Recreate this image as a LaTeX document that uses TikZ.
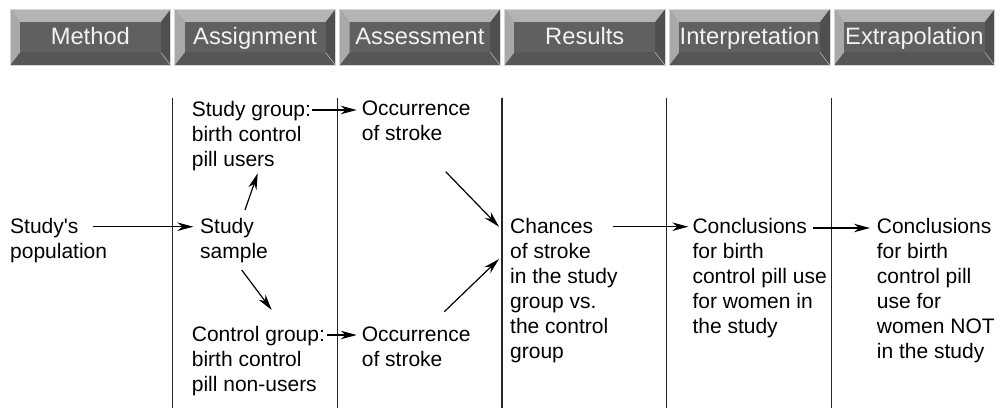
\documentclass[tikz,border=0pt]{standalone}
\usepackage{fontspec}
\newfontfamily\bodyfont{Liberation Sans}
\usetikzlibrary{arrows.meta}

% bevelled button shades
\definecolor{bevtop}{HTML}{B4B4B4}
\definecolor{bevleft}{HTML}{A9A9A9}
\definecolor{bevright}{HTML}{4F4F4F}
\definecolor{bevbottom}{HTML}{565656}
\definecolor{btnface}{HTML}{606060}
\definecolor{btnrim}{HTML}{D6D6D6}
\definecolor{btntext}{HTML}{F2F2F2}

\begin{document}
\begin{tikzpicture}[x=1pt,y=-1pt,
  % multi-line labels sit on the baseline of their last line
  lbl/.style={anchor=base west, inner sep=0pt, align=left,
              font=\bodyfont\fontsize{21}{25}\selectfont},
  hdr/.style={anchor=base, inner sep=0pt, text=btntext,
              font=\bodyfont\fontsize{23.7}{28}\selectfont},
  arr/.style={-{Stealth[length=16pt,width=8.5pt,inset=5pt]}, line width=1.2pt},
  divider/.style={line width=1.2pt, draw=black!85}]
\useasboundingbox (0,0) rectangle (1001,408);

% header buttons
\foreach \t [count=\i from 0] in {Method,Assignment,Assessment,Results,Interpretation,Extrapolation} {
  \pgfmathsetmacro\xa{10+164.8*\i}
  \pgfmathsetmacro\xb{\xa+160.7}
  \fill[bevbottom] (\xa,9.3) rectangle (\xb,65.3);
  \fill[bevtop] (\xa,9.3) -- (\xb,9.3) -- (\xb-10,22.3) -- (\xa+10,22.3) -- cycle;
  \fill[bevleft] (\xa,9.3) -- (\xa+10,22.3) -- (\xa+10,52.3) -- (\xa,65.3) -- cycle;
  \fill[bevright] (\xb,9.3) -- (\xb,65.3) -- (\xb-10,52.3) -- (\xb-10,22.3) -- cycle;
  \fill[btnface] (\xa+10,22.3) rectangle (\xb-10,52.3);
  \draw[btnrim, line width=0.7pt] (\xa,9.3) rectangle (\xb,65.3);
  \draw[btnrim, line width=0.4pt] (\xb-10,52.3) -- (\xb,65.3);
  \node[hdr] (hdr\i) at ({(\xa+\xb)/2},44) {\t};
}

% column dividers
\foreach \k in {0,...,4}
  \draw[divider] (172.4+164.75*\k,98) -- (172.4+164.75*\k,408);

% texts
\node[lbl] (pop)     at (10,258.5)    {Study's\\population};
\node[lbl] (sample)  at (200,258.5)   {Study\\sample};
\node[lbl] (sg)      at (191.7,166)   {Study group:\\birth control\\pill users};
\node[lbl] (cg)      at (191.7,391.5) {Control group:\\birth control\\pill non-users};
\node[lbl] (occa)    at (361.7,140.3) {Occurrence\\of stroke};
\node[lbl] (occb)    at (361.7,366.5) {Occurrence\\of stroke};
\node[lbl] (chances) at (510,358.5)   {Chances\\of stroke\\in the study\\group vs.\\the control\\group};
\node[lbl] (concla)  at (692.3,333.5) {Conclusions\\for birth\\control pill use\\for women in\\the study};
\node[lbl] (conclb)  at (876.7,358.5) {Conclusions\\for birth\\control pill\\use for\\women NOT\\in the study};

% connectors
\draw[arr] ([shift={(83.3,-31.8)}]pop.base west) -- ([shift={(-6.7,-31.8)}]sample.base west);
\draw[arr] ([shift={(45,-48.5)}]sample.base west) -- ([shift={(66,7.3)}]sg.base west);
\draw[arr] ([shift={(41.7,11.5)}]sample.base west) -- ([shift={(80,-81.5)}]cg.base west);
\draw[arr] ([shift={(1,-56)}]sg.base east) -- ([shift={(-5,-30.3)}]occa.base west);
\draw[arr] ([shift={(2,-56.5)}]cg.base east) -- ([shift={(-5,-31.5)}]occb.base west);
\draw[arr] ([shift={(84,31.4)}]occa.base west) -- ([shift={(-11,-131.8)}]chances.base west);
\draw[arr] ([shift={(82.6,-54.8)}]occb.base west) -- ([shift={(-11,-99.5)}]chances.base west);
\draw[arr] ([shift={(103.3,-131.8)}]chances.base west) -- ([shift={(-4,-106.8)}]concla.base west);
\draw[arr] ([shift={(121,-105.5)}]concla.base west) -- ([shift={(-6.7,-130.5)}]conclb.base west);
\end{tikzpicture}
\end{document}
